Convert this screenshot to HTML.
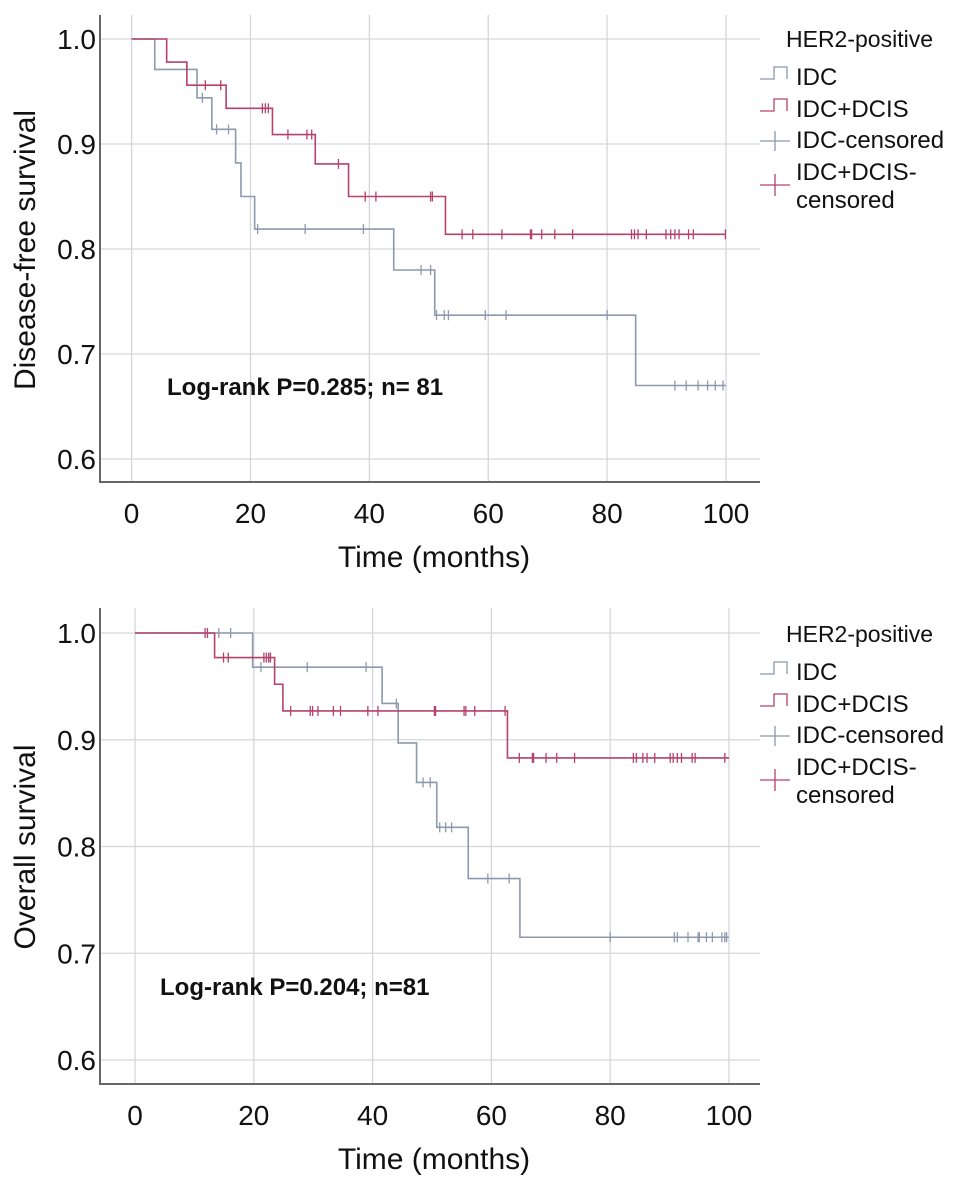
<!DOCTYPE html>
<html><head><meta charset="utf-8">
<style>
body{margin:0;background:#fff;}
svg{display:block;font-family:"Liberation Sans",Arial,sans-serif;}
</style></head>
<body>
<svg id="svg" width="969" height="1180" viewBox="0 0 969 1180" xmlns="http://www.w3.org/2000/svg"></svg>
<script>
// ---- Chart 1: Disease-free survival ----
const dfsIdcTimes = [3.9, 11, 13.5, 17.5, 18.4, 20.7, 44.1, 51, 84.8];
const dfsIdcSurv = [0.971, 0.944, 0.914, 0.882, 0.85, 0.819, 0.78, 0.737, 0.67];
const dfsIdcCens = [11.9, 14.3, 16.3, 21.2, 29.2, 39, 48.7, 50.3, 51.3, 52.6, 53.3, 59.5, 63, 80, 91.4, 93.3, 95.3, 96.9, 98.2, 99.5];
const dfsDcisTimes = [5.9, 9.3, 15.9, 23.7, 30.9, 36.5, 52.8];
const dfsDcisSurv = [0.978, 0.956, 0.934, 0.909, 0.881, 0.85, 0.814];
const dfsDcisCens = [12.4, 15, 22, 22.5, 23, 26.3, 29.5, 30.3, 34.8, 39.3, 41.1, 50.3, 50.6, 55.6, 57.4, 62.3, 67.1, 67.3, 69, 71.2, 74.2, 84.1, 84.6, 85.2, 86.6, 89.9, 90.7, 91.4, 92.1, 93.7, 94.5, 99.9];
// ---- Chart 2: Overall survival ----
const osIdcTimes = [19.8, 41.6, 44.3, 47.4, 50.8, 56.1, 64.8];
const osIdcSurv = [0.968, 0.934, 0.897, 0.86, 0.818, 0.77, 0.715];
const osIdcCens = [14.1, 16.1, 21.2, 29, 38.9, 44, 48.5, 49.7, 51.3, 52.3, 53.3, 59.4, 63, 80, 90.8, 91.3, 93.1, 94.8, 95, 96.2, 97.2, 98.8, 99.3, 99.6];
const osDcisTimes = [13.4, 23.5, 24.9, 62.7];
const osDcisSurv = [0.977, 0.952, 0.927, 0.883];
const osDcisCens = [11.8, 12.2, 14.9, 15.7, 21.7, 22.1, 22.5, 22.8, 26.2, 29.5, 29.9, 30.8, 33.4, 34.6, 39.2, 40.9, 50.4, 50.6, 55.4, 55.7, 57.2, 62.3, 64.7, 66.9, 67.1, 69.2, 71, 74, 83.9, 84.4, 85.5, 86.2, 87.5, 90.1, 90.6, 91.3, 92, 93.8, 94.3, 99.3];
const xTicks = [0, 20, 40, 60, 80, 100];
const yTicks = [1.0, 0.9, 0.8, 0.7, 0.6];

const NS = "http://www.w3.org/2000/svg";
const svg = document.getElementById('svg');
const IDC_C = "#8d99ad", DCIS_C = "#b4426c";
function mk(tag, attrs, parent) {
  const e = document.createElementNS(NS, tag);
  for (const k in attrs) e.setAttribute(k, attrs[k]);
  (parent || svg).appendChild(e);
  return e;
}
function chart(cfg) {
  const g = mk('g', {});
  
  
  const xs = t => cfg.x0 + (cfg.x1 - cfg.x0) * t / 100;
  const ys = s => cfg.y1 + (cfg.y6 - cfg.y1) * (1 - s) / 0.4;
  xTicks.forEach(t => {
    const l = mk('line', {x1: xs(t), x2: xs(t), y1: cfg.top, y2: cfg.bottom, stroke: '#d4d6dc', 'stroke-width': 1.3}, g);
    
    
    const tx = mk('text', {x: xs(t), y: cfg.bottom + 41, 'font-size': 28, 'text-anchor': 'middle', fill: '#111'}, g);
    tx.textContent = t;
    
    
  });
  yTicks.forEach(v => {
    const l = mk('line', {x1: 100, x2: 760, y1: ys(v), y2: ys(v), stroke: '#d4d6dc', 'stroke-width': 1.3}, g);
    
    
    const tx = mk('text', {x: 96, y: ys(v) + 10, 'font-size': 28, 'text-anchor': 'end', fill: '#111'}, g);
    tx.textContent = v.toFixed(1);
    
    
  });
  const ax = mk('path', {d: `M100,${cfg.top} V${cfg.bottom} H760`, stroke: '#666', 'stroke-width': 2, fill: 'none'}, g);
  
  
  function series(times, surv, cens, color, nm) {
    let d = `M${xs(0)},${ys(1)}`;
    times.forEach((t, i) => { d += ` H${xs(t)} V${ys(surv[i])}`; });
    d += ` H${xs(100)}`;
    const p = mk('path', {d, stroke: color, 'stroke-width': 1.6, fill: 'none'}, g);
    
    
    cens.forEach(c => {
      let sv = 1;
      times.forEach((t, i) => { if (t <= c) sv = surv[i]; });
      const m = mk('line', {x1: xs(c), x2: xs(c), y1: ys(sv) - 5, y2: ys(sv) + 5, stroke: color, 'stroke-width': 1.3}, g);
      
      
    });
  }
  series(cfg.idcT, cfg.idcS, cfg.idcC, IDC_C, 'idc');
  series(cfg.dcT, cfg.dcS, cfg.dcC, DCIS_C, 'idc-dcis');
  const ann = mk('text', {x: cfg.annX, y: cfg.annY, 'font-size': 24, 'font-weight': 'bold', fill: '#111'}, g);
  ann.textContent = cfg.ann;
  
  
  const xt = mk('text', {x: 434, y: cfg.bottom + 85, 'font-size': 30, 'text-anchor': 'middle', fill: '#111'}, g);
  xt.textContent = 'Time (months)';
  
  
  const yc = cfg.ytc;
  const yt = mk('text', {x: 35, y: yc, 'font-size': 30, 'text-anchor': 'middle', fill: '#111', transform: `rotate(-90 35 ${yc})`}, g);
  yt.textContent = cfg.ytitle;
  
  
  const L = mk('g', {}, g);
  
  
  const b = cfg.legY;
  const items = [['HER2-positive', 786, b, 23], ['IDC', 796, b + 38, 24], ['IDC+DCIS', 796, b + 70, 24], ['IDC-censored', 796, b + 101, 24], ['IDC+DCIS-', 796, b + 133, 24], ['censored', 796, b + 161, 24]];
  items.forEach(([t, x, y, f]) => {
    const e = mk('text', {x, y, 'font-size': f, fill: '#111'}, L);
    e.textContent = t;
    
    
  });
  mk('path', {d: `M760,${b + 32} H774 V${b + 20} H787 V${b + 32}`, stroke: IDC_C, fill: 'none', 'stroke-width': 1.3}, L);
  mk('path', {d: `M760,${b + 64} H774 V${b + 52} H787 V${b + 64}`, stroke: DCIS_C, fill: 'none', 'stroke-width': 1.3}, L);
  mk('path', {d: `M760,${b + 94} H790 M775,${b + 84} V${b + 104}`, stroke: IDC_C, fill: 'none', 'stroke-width': 1.3}, L);
  mk('path', {d: `M760,${b + 138} H790 M775,${b + 127} V${b + 149}`, stroke: DCIS_C, fill: 'none', 'stroke-width': 1.3}, L);
}
chart({name: 'disease-free-survival-chart', x0: 131.6, x1: 726, y1: 39, y6: 459, top: 15, bottom: 482,
  idcT: dfsIdcTimes, idcS: dfsIdcSurv, idcC: dfsIdcCens, dcT: dfsDcisTimes, dcS: dfsDcisSurv, dcC: dfsDcisCens,
  ann: 'Log-rank P=0.285; n= 81', annX: 167, annY: 395, ytitle: 'Disease-free survival', ytc: 250, legY: 47});
chart({name: 'overall-survival-chart', x0: 135, x1: 729, y1: 633, y6: 1060, top: 608, bottom: 1084,
  idcT: osIdcTimes, idcS: osIdcSurv, idcC: osIdcCens, dcT: osDcisTimes, dcS: osDcisSurv, dcC: osDcisCens,
  ann: 'Log-rank P=0.204; n=81', annX: 160, annY: 995, ytitle: 'Overall survival', ytc: 847, legY: 642});
</script>
</body></html>
